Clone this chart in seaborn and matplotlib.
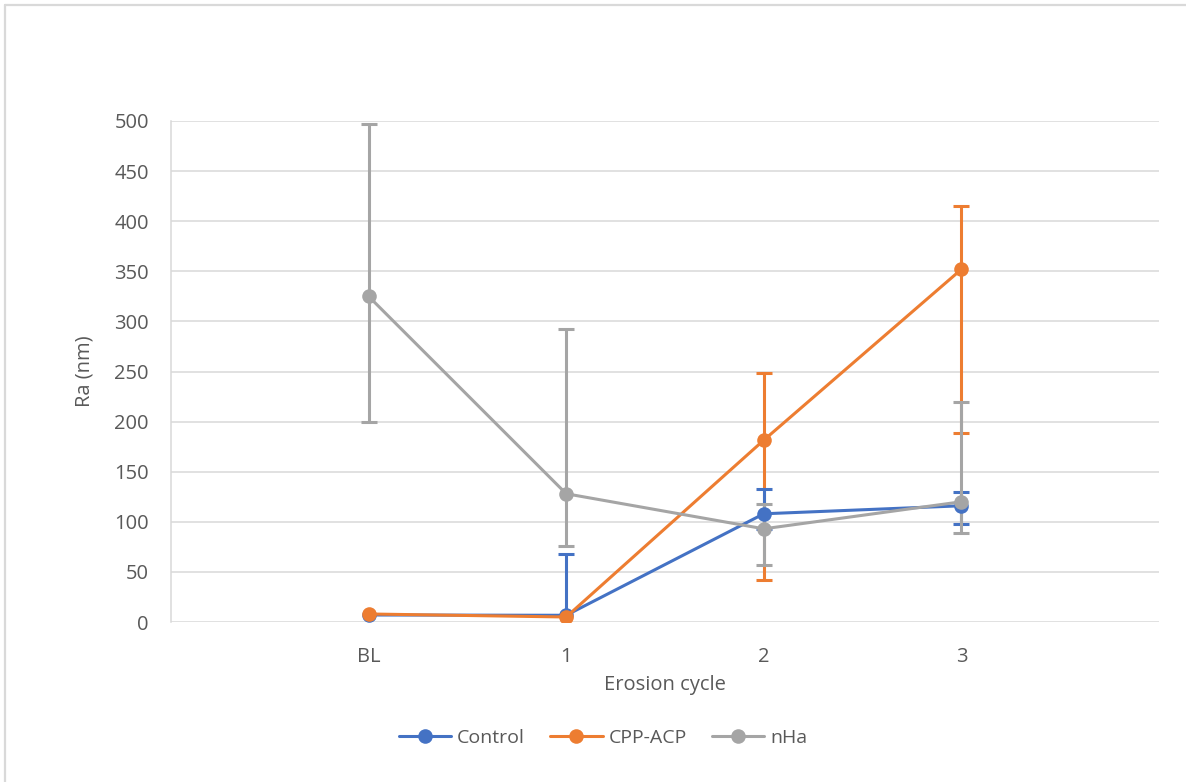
import numpy as np
import pandas as pd
import matplotlib
matplotlib.use("Agg")
import matplotlib.pyplot as plt
from matplotlib.lines import Line2D
import seaborn as sns

# ---- data ----
categories = ["BL", "1", "2", "3"]
series_names = ["Control", "CPP-ACP", "nHa"]
control = [7, 6.7, 108, 116]
control_hi = [None, 68, 133, 130]
control_lo = [None, -54, 93, 98]
cpp_acp = [8, 5, 181.5, 352]
cpp_acp_hi = [None, None, 249, 415]
cpp_acp_lo = [None, None, 42, 189]
nha = [325, 128, 93, 120]
nha_hi = [497, 292, 118, 220]
nha_lo = [200, 76, 57, 89]
yticks = [0, 50, 100, 150, 200, 250, 300, 350, 400, 450, 500]

colors = {"Control": "#4472C4", "CPP-ACP": "#ED7D31", "nHa": "#A5A5A5"}
text_color = "#595959"
grid_color = "#D9D9D9"

sns.set_theme(style="white")
plt.rcParams["font.family"] = ["Open Sans", "DejaVu Sans"]

values = {"Control": control, "CPP-ACP": cpp_acp, "nHa": nha}
his = {"Control": control_hi, "CPP-ACP": cpp_acp_hi, "nHa": nha_hi}
los = {"Control": control_lo, "CPP-ACP": cpp_acp_lo, "nHa": nha_lo}

rows = []
for s in series_names:
    for i, v in enumerate(values[s]):
        rows.append({"pos": i, "Ra": v, "series": s})
df = pd.DataFrame(rows)

fig = plt.figure(figsize=(11.86, 7.82), dpi=100)
ax = fig.add_axes([171 / 1186, 1 - 622 / 782, (1159 - 171) / 1186, (622 - 121) / 782])

# error bars
ezorder = {"Control": 2.2, "CPP-ACP": 2.1, "nHa": 2.3}
for s in series_names:
    xs, ys, lo_e, hi_e = [], [], [], []
    for i, v in enumerate(values[s]):
        if his[s][i] is None:
            continue
        xs.append(i)
        ys.append(v)
        hi_e.append(his[s][i] - v)
        lo_e.append(v - los[s][i])
    if xs:
        ax.errorbar(xs, ys, yerr=[lo_e, hi_e], fmt="none", ecolor=colors[s],
                    elinewidth=2.2, capsize=5.8, capthick=2.2, zorder=ezorder[s])

sns.lineplot(data=df, x="pos", y="Ra", hue="series", hue_order=series_names,
             palette=colors, marker="o", markersize=10.5, markeredgewidth=0,
             linewidth=2.2, errorbar=None, legend=False, ax=ax, zorder=3)

ax.set_xlim(-1, 4)
ax.set_ylim(0, 500)
ax.set_xticks(range(len(categories)))
ax.set_xticklabels(categories)
ax.set_yticks(yticks)
ax.yaxis.grid(True, color=grid_color, linewidth=1.1)
ax.xaxis.grid(False)
ax.set_axisbelow(True)
for side in ["top", "right", "bottom"]:
    ax.spines[side].set_visible(False)
ax.spines["left"].set_color(grid_color)
ax.spines["left"].set_linewidth(1.1)
ax.tick_params(axis="both", length=0, labelsize=14.5, labelcolor=text_color)
ax.tick_params(axis="x", pad=18)
ax.tick_params(axis="y", pad=16)

ax.set_xlabel("Erosion cycle", fontsize=14.5, color=text_color, labelpad=6)
ax.set_ylabel("Ra (nm)", fontsize=14.5, color=text_color, labelpad=14)

handles = [Line2D([0], [0], color=colors[s], marker="o", markersize=10.5,
                  markeredgewidth=0, linewidth=2.2) for s in series_names]
fig.legend(handles, series_names, loc="center", bbox_to_anchor=(603 / 1186, 1 - 738 / 782),
           ncol=3, frameon=False, fontsize=14, handlelength=2.7, handletextpad=0.3,
           columnspacing=1.3, labelcolor=text_color)

# chart-area border (left and top visible)
fig.add_artist(Line2D([4.5 / 1186, 4.5 / 1186], [0, 1 - 4.5 / 782], color=grid_color,
                      linewidth=1.6, transform=fig.transFigure))
fig.add_artist(Line2D([4.5 / 1186, 1], [1 - 4.5 / 782, 1 - 4.5 / 782], color=grid_color,
                      linewidth=1.6, transform=fig.transFigure))

fig.savefig("out.png", dpi=100, facecolor="white")
